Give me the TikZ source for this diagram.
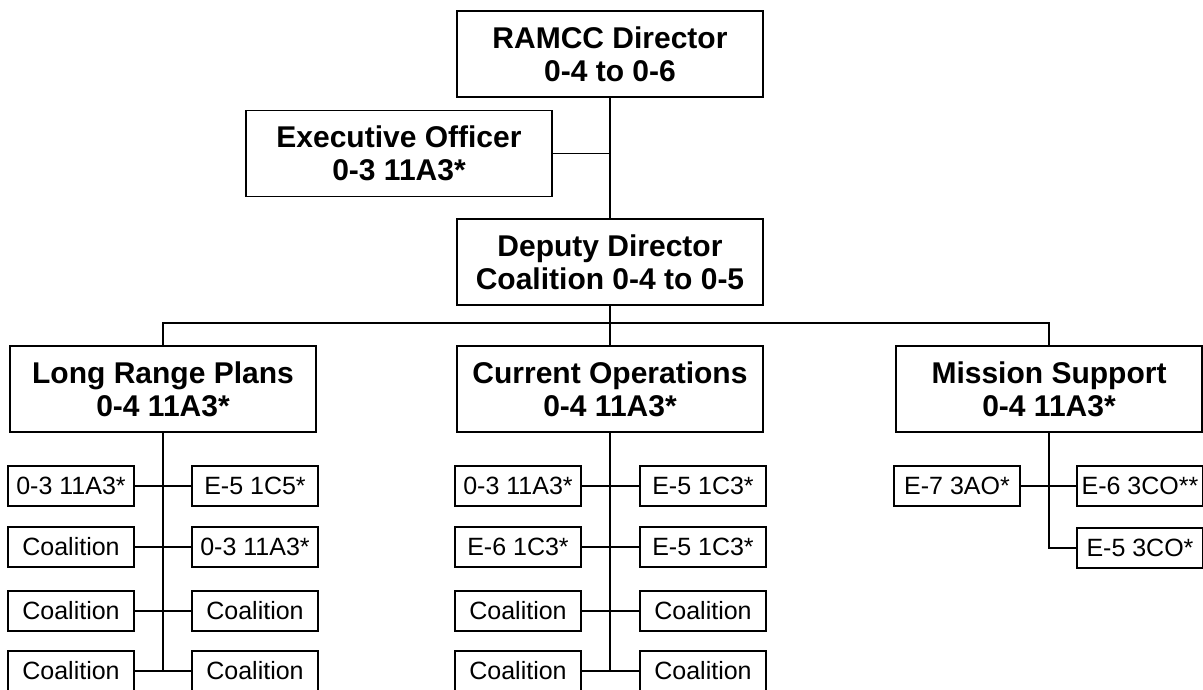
\documentclass[tikz,border=0pt]{standalone}
\usepackage{fontspec}
\setmainfont{Liberation Sans}
\begin{document}
\begin{tikzpicture}[x=1pt,y=-1pt,
  bigbox/.style={draw,line width=1.8pt,minimum width=306pt,minimum height=86pt,inner sep=0pt,align=center,font=\fontsize{30}{33}\selectfont\bfseries},
  smallbox/.style={draw,line width=1.4pt,minimum width=126pt,minimum height=40pt,inner sep=0pt,align=center,font=\fontsize{25}{28}\selectfont},
  link/.style={line width=1.8pt}]
\clip (0,0) rectangle (1203,689);
\fill[white] (0,0) rectangle (1203,689);
% top level
\node[bigbox] (ramcc) at (610,54) {RAMCC Director\\0-4 to 0-6};
\node[bigbox] (exec) at (399,153.5) {Executive Officer\\0-3 11A3*};
\node[bigbox] (deputy) at (610,262) {Deputy Director\\Coalition 0-4 to 0-5};
% branches
\node[bigbox] (lrp) at (163,389) {Long Range Plans\\0-4 11A3*};
\node[bigbox] (curops) at (610,389) {Current Operations\\0-4 11A3*};
\node[bigbox] (mission) at (1049,389) {Mission Support\\0-4 11A3*};
\coordinate (bar) at (610,323);
% Long Range Plans staff
\node[smallbox] (l1) at (71,486) {0-3 11A3*};
\node[smallbox] (r1) at (255,486) {E-5 1C5*};
\node[smallbox] (l2) at (71,547) {Coalition};
\node[smallbox] (r2) at (255,547) {0-3 11A3*};
\node[smallbox] (l3) at (71,611) {Coalition};
\node[smallbox] (r3) at (255,611) {Coalition};
\node[smallbox] (l4) at (71,671) {Coalition};
\node[smallbox] (r4) at (255,671) {Coalition};
% Current Operations staff
\node[smallbox] (cl1) at (518,486) {0-3 11A3*};
\node[smallbox] (cr1) at (703,486) {E-5 1C3*};
\node[smallbox] (cl2) at (518,547) {E-6 1C3*};
\node[smallbox] (cr2) at (703,547) {E-5 1C3*};
\node[smallbox] (cl3) at (518,611) {Coalition};
\node[smallbox] (cr3) at (703,611) {Coalition};
\node[smallbox] (cl4) at (518,671) {Coalition};
\node[smallbox] (cr4) at (703,671) {Coalition};
% Mission Support staff
\node[smallbox] (e7) at (957,486) {E-7 3AO*};
\node[smallbox] (e6) at (1140,486) {E-6 3CO**};
\node[smallbox] (e5) at (1140,548) {E-5 3CO*};
% connectors
\draw[link] (ramcc.south) -- (deputy.north);
\draw[link] (exec.east) -- (exec.east -| ramcc.south);
\draw[link] (deputy.south) -- (curops.north);
\draw[link] (lrp.north) -- (lrp.north |- bar) -- (mission.north |- bar) -- (mission.north);
\draw[link] (lrp.south) -- (lrp.south |- l4.east);
\draw[link] (l1.east) -- (r1.west);
\draw[link] (l2.east) -- (r2.west);
\draw[link] (l3.east) -- (r3.west);
\draw[link] (l4.east) -- (r4.west);
\draw[link] (curops.south) -- (curops.south |- cl4.east);
\draw[link] (cl1.east) -- (cr1.west);
\draw[link] (cl2.east) -- (cr2.west);
\draw[link] (cl3.east) -- (cr3.west);
\draw[link] (cl4.east) -- (cr4.west);
\draw[link] (e7.east) -- (e6.west);
\draw[link] (mission.south) |- (e5.west);
\end{tikzpicture}
\end{document}
